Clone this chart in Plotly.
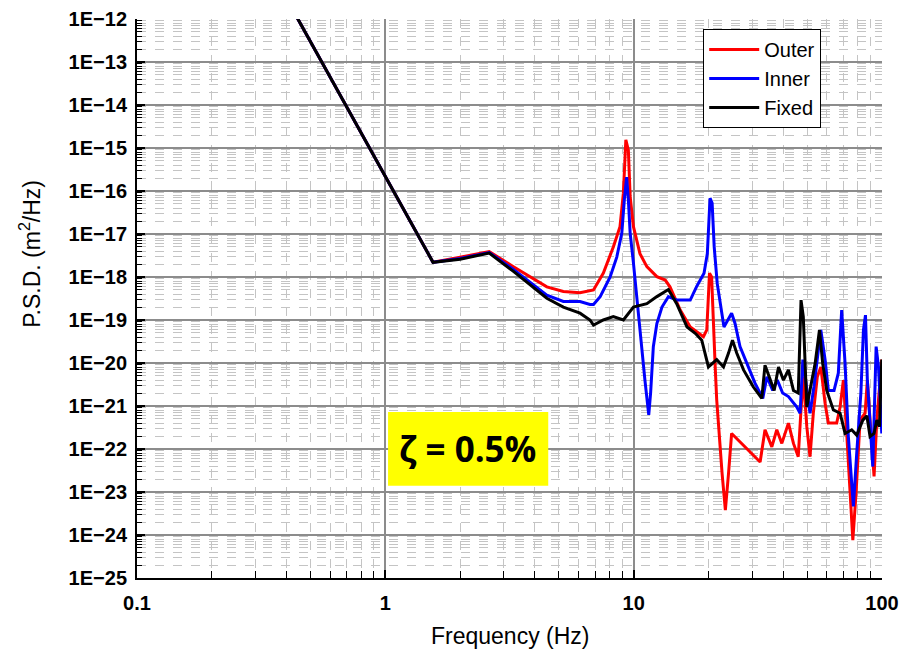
import plotly.graph_objects as go

# ---- data ----
outer_f = [0.42, 1.556, 2.0, 2.62, 3.28, 4.47, 5.21, 6.08, 6.89, 7.55, 8.28, 8.81, 9.09, 9.30, 9.52,
           9.68, 9.98, 10.6, 11.3, 12.4, 13.4, 14.0, 15.4, 16.9, 19.1, 19.7, 20.2, 20.6, 21.3, 21.6,
           22.7, 23.4, 24.1, 24.8, 32.3, 33.8, 36.0, 37.7, 39.5, 42.0, 44.0, 46.0, 47.1, 48.2, 49.8,
           51.3, 52.9, 54.9, 56.7, 59.0, 60.8, 65.7, 67.8, 69.9, 72.1, 74.4, 76.3, 78.6, 81.6, 85.5,
           87.3, 89.5, 92.9, 95.3, 99.8]
outer_psd = [1.8e-12, 2.2e-18, 2.9e-18, 3.9e-18, 1.74e-18, 5.9e-19, 4.6e-19, 4.3e-19, 5.0e-19, 1.23e-18,
             5.0e-18, 1.48e-17, 8.9e-17, 1.55e-15, 8.9e-16, 7.4e-17, 1.48e-17, 3.5e-18, 1.74e-18, 1.02e-18,
             8.5e-19, 5.9e-19, 1.7e-19, 6.9e-20, 4.1e-20, 5.9e-20, 1.23e-18, 1.0e-18, 8.1e-21, 1.38e-21,
             2.7e-23, 3.8e-24, 2.7e-23, 2.3e-22, 5.0e-23, 2.8e-22, 1.12e-22, 2.8e-22, 1.35e-22, 4.0e-22,
             1.35e-22, 6.6e-23, 6.8e-22, 4.8e-21, 3.3e-22, 6.6e-23, 6.8e-22, 4.8e-21, 8.1e-21, 1.15e-21,
             4.0e-22, 4.0e-22, 9.5e-22, 4.0e-21, 2.3e-22, 1.3e-23, 7.6e-25, 9.3e-24, 4.7e-22, 6.8e-22,
             4.0e-21, 4.7e-22, 2.3e-23, 4.7e-22, 1.2e-20]

inner_f = [0.42, 1.556, 2.0, 2.62, 3.28, 4.47, 5.21, 6.08, 6.67, 6.89, 7.33, 8.04, 8.55, 8.96, 9.17,
           9.37, 9.52, 9.68, 9.98, 10.3, 10.6, 11.1, 11.5, 11.7, 12.0, 12.4, 13.0, 13.8, 14.9, 16.9,
           17.9, 19.2, 19.8, 20.3, 20.7, 21.1, 21.7, 23.1, 24.8, 25.6, 26.8, 28.5, 30.8, 33.1, 34.4,
           36.3, 37.9, 39.8, 42.0, 45.4, 46.8, 48.0, 49.8, 51.3, 53.2, 54.9, 56.7, 59.0, 60.8, 64.1,
           66.7, 68.8, 71.0, 73.2, 74.9, 76.7, 79.1, 82.2, 84.2, 85.8, 87.3, 89.5, 91.8, 94.7, 96.8,
           99.8]
inner_psd = [1.8e-12, 2.2e-18, 2.7e-18, 3.7e-18, 1.5e-18, 3.8e-19, 2.7e-19, 2.7e-19, 2.3e-19, 2.3e-19,
             3.5e-19, 1.0e-18, 2.9e-18, 1.05e-17, 6.2e-17, 2.1e-16, 6.2e-17, 1.05e-17, 2.1e-18, 2.9e-19,
             6.9e-20, 4.0e-21, 6.2e-22, 2.0e-21, 2.4e-20, 8.3e-20, 2.0e-19, 3.5e-19, 2.9e-19, 2.9e-19,
             5.9e-19, 1.23e-18, 3.5e-18, 6.8e-17, 5.2e-17, 5.0e-18, 7.1e-19, 6.9e-20, 1.44e-19, 8.3e-20,
             2.4e-20, 9.8e-21, 3.4e-21, 1.5e-21, 4.8e-21, 2.3e-21, 4.0e-21, 2.0e-21, 1.66e-21, 9.5e-22,
             6.8e-22, 1.2e-20, 2.3e-21, 6.8e-22, 2.8e-21, 1.2e-20, 5.9e-20, 1.2e-20, 2.3e-21, 2.3e-21,
             5.8e-21, 1.7e-19, 9.8e-21, 1.95e-22, 3.9e-23, 4.6e-24, 7.9e-23, 2.0e-21, 5.9e-20, 1.3e-19,
             4.0e-21, 4.7e-22, 3.9e-23, 2.4e-20, 8.1e-21, 2.3e-22]

fixed_f = [0.42, 1.556, 2.0, 2.62, 3.28, 4.47, 5.21, 6.08, 6.67, 6.89, 7.55, 8.28, 9.09, 9.98, 11.3,
           12.4, 13.8, 14.9, 16.4, 17.7, 18.8, 20.0, 21.6, 23.0, 24.1, 25.0, 26.0, 27.7, 30.3, 32.8,
           33.8, 35.4, 36.8, 38.3, 40.1, 42.0, 44.0, 46.0, 47.2, 48.2, 49.8, 51.6, 53.8, 56.0, 57.7,
           59.9, 63.7, 67.8, 71.0, 75.5, 79.1, 83.7, 86.9, 89.5, 92.9, 95.3, 97.7, 99.8]
fixed_psd = [1.8e-12, 2.2e-18, 2.6e-18, 3.6e-18, 1.35e-18, 3.2e-19, 2.0e-19, 1.44e-19, 1.0e-19, 7.6e-20,
             1.0e-19, 1.2e-19, 1.0e-19, 2.0e-19, 2.4e-19, 3.5e-19, 5.1e-19, 2.4e-19, 6.9e-20, 4.9e-20,
             3.4e-20, 8.1e-21, 1.2e-20, 8.1e-21, 1.7e-20, 3.4e-20, 1.7e-20, 6.9e-21, 2.8e-21, 1.5e-21,
             8.9e-21, 4.0e-21, 2.3e-21, 8.1e-21, 4.0e-21, 6.9e-21, 2.3e-21, 2.0e-21, 2.9e-19, 1.2e-19,
             9.5e-22, 2.8e-21, 9.8e-21, 5.9e-20, 9.8e-21, 2.3e-21, 8.1e-22, 6.8e-22, 2.3e-22, 2.8e-22,
             2.1e-22, 4.7e-22, 5.9e-22, 1.95e-22, 2.3e-22, 4.7e-22, 3.3e-22, 1.2e-20]

x_tickvals = [0.1, 1, 10, 100]
x_ticktext = ["0.1", "1", "10", "100"]
y_exponents = list(range(-12, -26, -1))
y_tickvals = [10.0 ** e for e in y_exponents]
y_ticktext = ["1E\u2212%d" % (-e) for e in y_exponents]

x_minor = [k * 10.0 ** e for e in range(-1, 2) for k in range(2, 10)]
y_minor = [k * 10.0 ** e for e in range(-25, -12) for k in range(2, 10)]

FONT = "Liberation Sans, Arial, sans-serif"

fig = go.Figure()
for name, fx, fy, col in [("Outer", outer_f, outer_psd, "#ff0000"),
                          ("Inner", inner_f, inner_psd, "#0000ff"),
                          ("Fixed", fixed_f, fixed_psd, "#000000")]:
    fig.add_trace(go.Scatter(x=fx, y=fy, mode="lines", name=name,
                             line=dict(color=col, width=3)))

axis_common = dict(
    type="log", showline=True, linecolor="black", linewidth=2, mirror=False,
    ticks="inside", ticklen=8, tickwidth=2, tickcolor="black", automargin=False,
    showgrid=True, gridcolor="#8c8c8c", gridwidth=2, zeroline=False,
    tickfont=dict(family=FONT, size=20, color="black", weight="bold"),
)

fig.update_layout(
    width=912, height=654,
    margin=dict(l=137, r=30, t=19, b=76),
    paper_bgcolor="white", plot_bgcolor="white",
    showlegend=True,
    legend=dict(x=0.76, y=0.982, xanchor="left", yanchor="top",
                bgcolor="white", bordercolor="black", borderwidth=1,
                font=dict(family=FONT, size=20, color="black"),
                itemwidth=50, tracegroupgap=0),
    xaxis=dict(axis_common, range=[-1, 2], tickmode="array", tickvals=x_tickvals,
               ticktext=x_ticktext, ticklabelstandoff=6,
               minor=dict(tickmode="array", tickvals=x_minor, ticks="inside", ticklen=7,
                          tickcolor="black", tickwidth=1, showgrid=True,
                          gridcolor="#c4c4c4", griddash="dash", gridwidth=1)),
    yaxis=dict(axis_common, range=[-25, -12], tickmode="array", tickvals=y_tickvals,
               ticktext=y_ticktext, ticklabelstandoff=4,
               minor=dict(tickmode="array", tickvals=y_minor, ticks="inside", ticklen=5,
                          tickcolor="black", tickwidth=1, showgrid=True,
                          gridcolor="#c4c4c4", griddash="dash", gridwidth=1)),
)

# yellow label box
fig.add_shape(type="rect", xref="paper", yref="paper", x0=0.337, x1=0.552, y0=0.165, y1=0.297,
              fillcolor="#ffff00", line=dict(width=0), layer="above")
fig.add_annotation(xref="paper", yref="paper", x=0.444, y=0.231, xanchor="center", yanchor="middle",
                   showarrow=False, text="<b>\u03b6 = 0.5%</b>",
                   font=dict(family="Open Sans, Liberation Sans, sans-serif", size=35, color="black"))

# axis titles
fig.add_annotation(xref="paper", yref="paper", x=0.5007, y=-0.104, xanchor="center", yanchor="middle",
                   showarrow=False, text="Frequency (Hz)",
                   font=dict(family=FONT, size=23, color="black"))
fig.add_annotation(xref="paper", yref="paper", x=-0.1436, y=0.58, xanchor="center", yanchor="middle",
                   showarrow=False, textangle=-90, text="P.S.D. (m<sup>2</sup>/Hz)",
                   font=dict(family=FONT, size=23, color="black"))

fig.write_html("out.html", config={"displayModeBar": False},
               post_script="document.body.style.margin='0';")
